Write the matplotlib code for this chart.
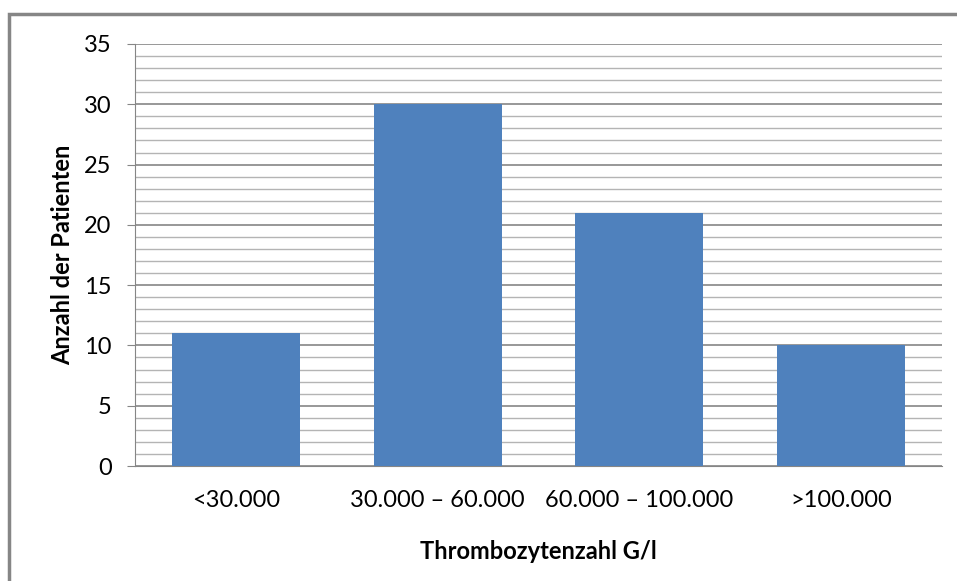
import numpy as np
import matplotlib.pyplot as plt
from matplotlib.patches import Rectangle

categories = ['<30.000', '30.000 – 60.000', '60.000 – 100.000', '>100.000']
patients = [11, 30, 21, 10]

plt.rcParams['font.family'] = ['Lato', 'DejaVu Sans']

fig = plt.figure(figsize=(9.57, 5.81), dpi=100)
ax = fig.add_axes([0.1411, 0.1979, 0.8433, 0.7264])

x = np.arange(len(categories))
ax.bar(x, patients, width=0.635, color='#4f81bd', zorder=3)

ax.set_xlim(-0.5, len(categories) - 0.5)
ax.set_ylim(0, 35)
ax.set_yticks(np.arange(0, 36, 5))
ax.set_yticks(np.arange(0, 36, 1), minor=True)
ax.grid(axis='y', which='major', color='#868686', linewidth=1.2, zorder=1)
ax.grid(axis='y', which='minor', color='#b4b4b4', linewidth=1.0, zorder=1)

ax.set_xticks(x)
ax.set_xticklabels(categories, fontsize=17)
ax.tick_params(axis='x', length=0, pad=17)
ax.tick_params(axis='y', which='major', length=5.8, color='#868686', labelsize=17, pad=11)
ax.tick_params(axis='y', which='minor', length=0)

for side in ['top', 'right']:
    ax.spines[side].set_visible(False)
ax.spines['left'].set_color('#868686')
ax.spines['bottom'].set_color('#868686')

ax.set_xlabel('Thrombozytenzahl G/l', fontsize=17, fontweight='bold', labelpad=21)
ax.set_ylabel('Anzahl der Patienten', fontsize=17, fontweight='bold', labelpad=7)

# outer chart frame
fig.patches.append(Rectangle((9 / 957, -0.05), 1.1, 1 - 14 / 581 + 0.05,
                             transform=fig.transFigure, fill=False,
                             edgecolor='#868686', linewidth=2.5))

fig.savefig('out.png', dpi=100)
